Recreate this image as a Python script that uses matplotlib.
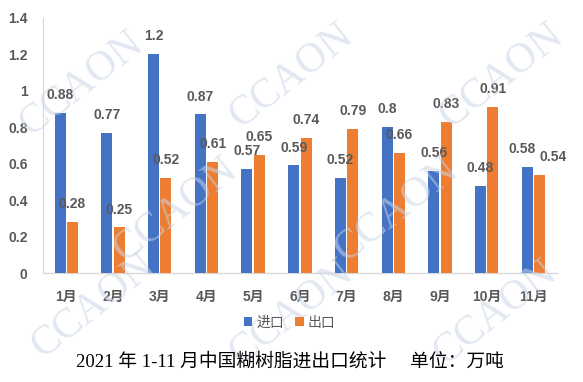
import matplotlib
matplotlib.use("Agg")
import matplotlib.pyplot as plt
import numpy as np

months = ["1月", "2月", "3月", "4月", "5月", "6月", "7月", "8月", "9月", "10月", "11月"]
imports = [0.88, 0.77, 1.2, 0.87, 0.57, 0.59, 0.52, 0.8, 0.56, 0.48, 0.58]
exports = [0.28, 0.25, 0.52, 0.61, 0.65, 0.74, 0.79, 0.66, 0.83, 0.91, 0.54]
yticks = [0, 0.2, 0.4, 0.6, 0.8, 1, 1.2, 1.4]
ytick_labels = ["0", "0.2", "0.4", "0.6", "0.8", "1", "1.2", "1.4"]

blue = "#4472C4"
orange = "#ED7D31"
gray = "#595959"
cjk = ["Liberation Sans", "Noto Sans CJK SC"]

fig = plt.figure(figsize=(5.83, 3.82), dpi=100)
ax = fig.add_axes([0.0738, 0.2853, 0.881, 0.668])

x = np.arange(len(months))
w = 0.235
gap = 0.03
b1 = ax.bar(x - w/2 - gap/2, imports, w, color=blue, label="进口", zorder=3)
b2 = ax.bar(x + w/2 + gap/2, exports, w, color=orange, label="出口", zorder=3)

n = len(months)
for i, (rect, v) in enumerate(zip(b1, imports)):
    dx = -0.1 if i == n - 1 else 0.0
    ax.text(rect.get_x() + rect.get_width()/2 + dx, v + 0.06, f"{v:g}", ha="center", va="bottom",
            fontsize=10, fontweight="bold", color=gray, family=cjk, zorder=4)
for i, (rect, v) in enumerate(zip(b2, exports)):
    dx = 0.3 if i == n - 1 else 0.0
    ax.text(rect.get_x() + rect.get_width()/2 + dx, v + 0.06, f"{v:g}", ha="center", va="bottom",
            fontsize=10, fontweight="bold", color=gray, family=cjk, zorder=4)

ax.set_xlim(-0.5, len(months) - 0.5)
ax.set_ylim(0, 1.4)
ax.set_yticks(yticks)
ax.set_yticklabels(ytick_labels)
ax.set_xticks(x)
ax.set_xticklabels(months)
for lab in ax.get_xticklabels() + ax.get_yticklabels():
    lab.set_family(cjk)
    lab.set_fontsize(10)
    lab.set_fontweight("bold")
    lab.set_color(gray)
ax.tick_params(axis="both", length=0)
ax.tick_params(axis="y", pad=11)
ax.tick_params(axis="x", pad=12)
for s in ["top", "right"]:
    ax.spines[s].set_visible(False)
ax.spines["left"].set_color("#d9d9d9")
ax.spines["bottom"].set_color("#d9d9d9")
ax.spines["left"].set_linewidth(0.8)
ax.spines["bottom"].set_linewidth(1.0)

leg = fig.legend(handles=[b1, b2], labels=["进口", "出口"], loc="center", bbox_to_anchor=(0.497, 0.155),
                 ncol=2, frameon=False, prop={"family": cjk, "size": 10}, handlelength=0.6, handleheight=0.6,
                 handletextpad=0.3, columnspacing=0.8)
for t in leg.get_texts():
    t.set_color(gray)

fig.text(0.497, 0.052, "2021 年 1-11 月中国糊树脂进出口统计     单位：万吨", ha="center", va="center",
         fontsize=13.5, family=["Liberation Serif", "Noto Sans CJK SC"], color="black")

# watermark
wm_pos = [(0.14, 0.78), (0.50, 0.80), (0.86, 0.80), (0.30, 0.45), (0.68, 0.45), (0.16, 0.20), (0.50, 0.18), (0.85, 0.18)]
for px, py in wm_pos:
    fig.text(px, py, "CCAON", ha="center", va="center", rotation=38, fontsize=30,
             family="Liberation Serif", color="#c9d5e8", alpha=0.55, zorder=0)

fig.savefig("out.png", dpi=100)
